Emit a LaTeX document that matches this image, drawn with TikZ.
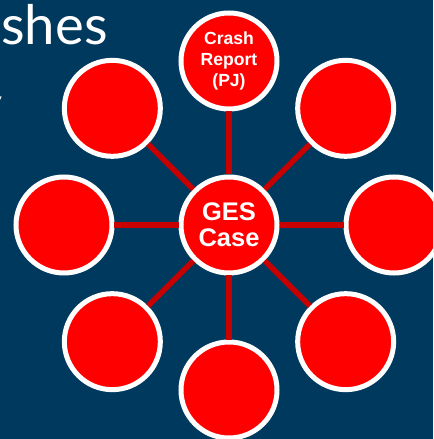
\documentclass[tikz,border=0pt]{standalone}
\usepackage{fontspec}
\setmainfont{Liberation Sans}
\newfontfamily\titlefont{Lato}
\definecolor{slideblue}{RGB}{0,57,94}
\definecolor{spokered}{RGB}{200,0,0}
\tikzset{
    gesnode/.style={circle,draw=white,line width=0.1cm,fill=red,minimum size=1.92cm,
        inner sep=0pt,text=white,align=center},
    spokeline/.style={spokered,line width=0.11cm},
    titletext/.style={text=white,inner sep=0pt,font=\titlefont\fontsize{31}{31}\selectfont}
}
\begin{document}
\begin{tikzpicture}
        %% Slide
        \clip (-4.58,-4.28) rectangle (4.08,4.5);
        \fill[slideblue] (-4.58,-4.28) rectangle (4.08,4.5);
        \node[titletext,anchor=base east] (titleA) at (-2.42,3.6) {shes};
        \node[titletext,anchor=base east] (titleB) at (-4.52,2.0) {y};
        %% Hub and ring
        \node[gesnode,font=\bfseries\fontsize{14.5}{14.8}\selectfont] (ges) at (0,0) {GES\\Case};
        \node[gesnode,font=\bfseries\fontsize{10}{12}\selectfont] (crash) at (90:3.28) {Crash\\Report\\(PJ)};
        \foreach \a/\n in {45/ne,0/e,-45/se,-90/s,-135/sw,180/w,135/nw}
            \node[gesnode] (ring\n) at (\a:3.3) {};
        %% Spokes
        \draw[spokeline] (ges) -- (crash);
        \foreach \n in {ne,e,se,s,sw,w,nw}
            \draw[spokeline] (ges) -- (ring\n);
\end{tikzpicture}
\end{document}
